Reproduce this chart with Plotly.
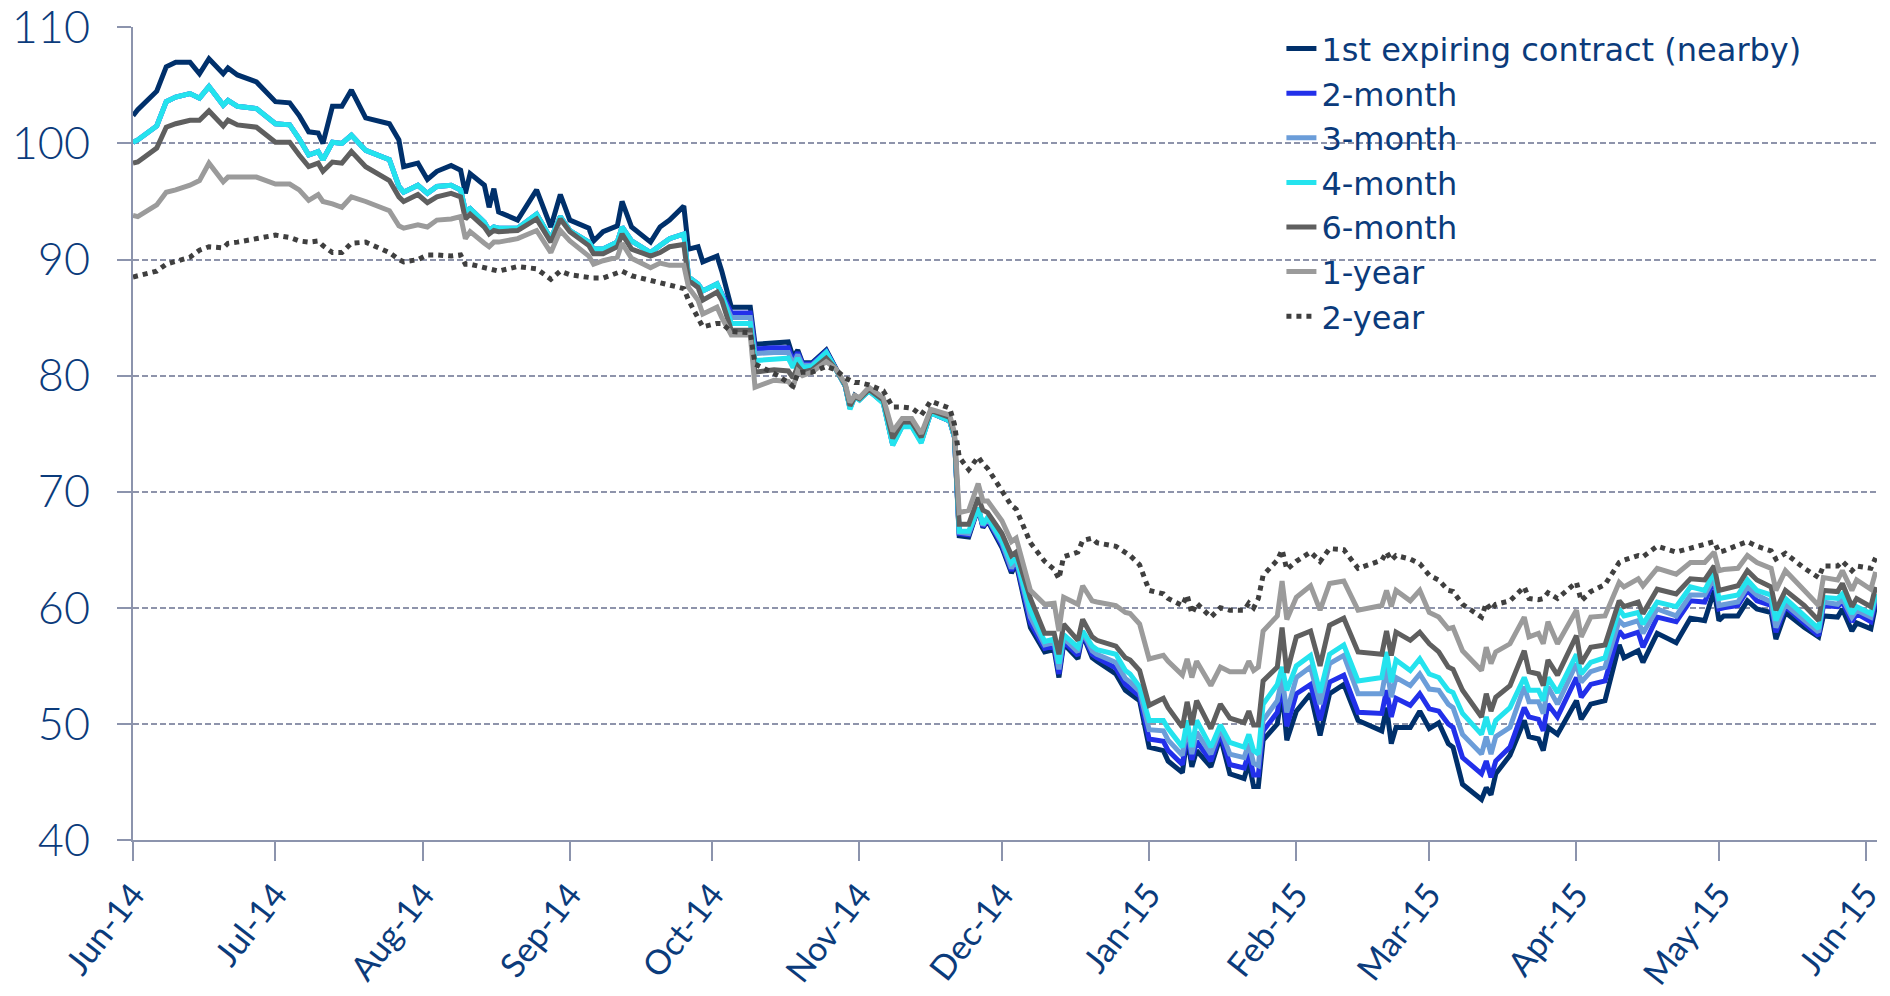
import pandas as pd
import plotly.graph_objects as go

# ---------------- data ----------------
start_date = "2014-06-01"

# calendar-day offsets from start_date of the plotted points
day_offset = [
    0, 1, 5, 7, 9, 12, 14, 16, 19, 20, 22, 26, 30, 33, 35, 37, 39, 40, 42, 44, 46, 49, 54, 56, 57,
    60, 62, 64, 67, 69, 70, 71, 74, 75, 76, 77, 81, 85, 88, 90, 92, 96, 97, 99, 102, 103, 105, 109, 111, 113, 116, 117, 119, 120, 123, 124,
    126, 130, 131, 135, 138, 139, 140, 141, 143, 146, 148, 150, 151, 152, 153, 155, 158, 160, 162, 164, 166, 168, 172, 173, 174, 176, 178, 179, 180, 183,
    185, 186, 189, 192, 194, 195, 196, 199, 200, 202, 203, 207, 209, 210, 212, 214, 217, 218, 221, 222, 223, 224, 227, 229, 231, 234, 235, 236, 237, 238, 241, 242, 243, 245,
    248, 250, 252, 255, 258, 263, 264, 265, 266, 269, 271, 273, 275, 277, 278, 280, 284, 285, 286, 287, 290, 293, 294, 296, 297, 298, 300, 304, 305,
    307, 310, 313, 314, 317, 318, 321, 325, 328, 331, 333, 334, 335, 338, 340, 342, 345, 346, 348, 352, 355, 356, 359, 360, 362, 363, 366, 367,
]

nearby = [
    102.4, 102.9, 104.5, 106.6, 107.0, 107.0, 106.0, 107.3, 106.0, 106.5, 105.9, 105.3, 103.6, 103.5, 102.4, 101.0, 100.9, 100.0, 103.2, 103.2, 104.6, 102.2, 101.7, 100.3, 98.0,
    98.3, 96.9, 97.6, 98.1, 97.7, 95.7, 97.4, 96.4, 94.5, 96.1, 94.1, 93.4, 96.0, 92.8, 95.6, 93.4, 92.7, 91.6, 92.4, 92.9, 95.0, 92.8, 91.5, 92.8, 93.4, 94.6, 90.9, 91.1, 89.8, 90.3, 89.0,
    85.9, 85.9, 82.7, 82.8, 82.9, 81.6, 82.2, 81.1, 81.1, 82.2, 80.7, 79.1, 77.3, 78.3, 78.0, 78.7, 77.8, 74.1, 75.7, 75.7, 74.4, 76.8, 76.1, 74.7, 66.2, 66.1, 68.6, 66.9, 67.5, 65.2,
    63.0, 63.8, 58.3, 56.2, 56.4, 54.0, 56.9, 55.6, 57.7, 55.7, 55.4, 54.3, 52.9, 52.6, 52.0, 48.0, 47.7, 46.8, 45.8, 48.9, 46.3, 47.7, 46.3, 48.9, 45.7, 45.3, 46.7, 44.6, 44.6, 48.6, 50.0, 52.9, 48.6, 51.1,
    52.6, 49.0, 52.6, 53.4, 50.3, 49.4, 51.4, 48.3, 49.7, 49.7, 51.1, 49.6, 50.1, 48.3, 48.0, 44.8, 43.5, 44.5, 43.9, 45.7, 47.3, 50.3, 48.9, 48.7, 47.7, 49.7, 49.1, 52.0, 50.4,
    51.7, 52.0, 56.8, 55.7, 56.3, 55.3, 57.8, 57.0, 59.1, 58.9, 61.5, 58.9, 59.3, 59.3, 60.6, 59.9, 59.6, 57.3, 59.6, 58.3, 57.5, 59.3, 59.2, 59.9, 58.0, 58.7, 58.2, 60.2,
]

month_2 = [
    100.1, 100.3, 101.5, 103.6, 104.0, 104.3, 103.9, 104.9, 103.3, 103.7, 103.2, 103.0, 101.7, 101.6, 100.4, 99.0, 99.3, 98.6, 100.1, 100.0, 100.7, 99.4, 98.6, 96.3, 95.8,
    96.4, 95.7, 96.3, 96.4, 96.0, 94.2, 94.4, 93.2, 92.5, 92.8, 92.7, 92.7, 93.9, 91.8, 93.7, 92.5, 91.5, 90.9, 90.9, 91.5, 92.8, 91.6, 90.6, 91.2, 91.8, 92.2, 88.5, 87.9, 87.3, 87.9, 87.0,
    85.4, 85.4, 82.3, 82.4, 82.4, 81.3, 82.0, 81.0, 81.0, 82.1, 80.7, 79.1, 77.2, 78.2, 78.0, 78.7, 77.7, 74.1, 75.7, 75.7, 74.3, 76.8, 76.1, 74.7, 66.4, 66.3, 68.6, 67.0, 67.6, 65.4,
    63.2, 64.0, 58.7, 56.5, 56.7, 54.3, 57.1, 55.9, 57.8, 56.0, 55.7, 54.8, 53.4, 53.1, 52.4, 48.7, 48.5, 47.7, 46.5, 49.3, 46.9, 48.5, 46.8, 49.2, 46.5, 46.2, 47.5, 45.6, 45.6, 49.4, 51.0, 53.5, 49.8, 52.6,
    53.4, 50.3, 53.6, 54.2, 51.0, 50.9, 52.9, 50.6, 52.2, 51.6, 52.6, 51.3, 51.1, 50.0, 49.7, 47.1, 45.7, 46.8, 45.4, 46.8, 48.0, 51.4, 50.6, 50.4, 49.4, 51.7, 50.6, 54.0, 52.3,
    53.4, 53.7, 58.0, 57.5, 57.9, 56.6, 59.2, 58.8, 60.6, 60.5, 62.4, 59.9, 60.0, 60.2, 61.5, 60.6, 60.2, 57.9, 60.1, 58.6, 57.6, 60.2, 60.1, 60.5, 58.8, 59.5, 58.8, 60.6,
]

month_3 = [
    100.1, 100.3, 101.5, 103.6, 104.0, 104.3, 103.9, 104.9, 103.3, 103.7, 103.2, 103.0, 101.7, 101.6, 100.4, 99.0, 99.3, 98.6, 100.1, 100.0, 100.7, 99.4, 98.6, 96.3, 95.8,
    96.4, 95.7, 96.3, 96.4, 96.0, 94.2, 94.4, 93.2, 92.5, 92.8, 92.7, 92.7, 93.9, 91.8, 93.7, 92.5, 91.5, 90.9, 90.9, 91.5, 92.8, 91.6, 90.6, 91.2, 91.8, 92.2, 88.5, 87.9, 87.3, 87.9, 87.0,
    85.0, 85.0, 81.9, 82.0, 82.0, 81.0, 81.8, 80.9, 80.9, 82.0, 80.6, 79.1, 77.2, 78.2, 77.9, 78.7, 77.7, 74.0, 75.7, 75.7, 74.3, 76.8, 76.1, 74.7, 66.5, 66.4, 68.6, 67.1, 67.7, 65.6,
    63.4, 64.2, 59.2, 56.8, 57.0, 54.7, 57.4, 56.2, 57.9, 56.3, 56.0, 55.3, 53.9, 53.6, 52.8, 49.5, 49.4, 48.6, 47.3, 49.8, 47.4, 49.3, 47.4, 49.6, 47.4, 47.1, 48.3, 46.6, 46.4, 50.3, 52.0, 54.0, 51.0, 54.0,
    54.9, 51.7, 55.2, 55.9, 52.6, 52.6, 54.9, 52.3, 54.0, 53.3, 54.3, 53.0, 52.9, 51.7, 51.4, 49.1, 47.4, 48.9, 47.4, 48.9, 49.7, 53.2, 51.9, 51.9, 50.9, 53.2, 51.7, 55.2, 53.6,
    54.5, 54.9, 58.9, 58.5, 58.9, 57.8, 59.9, 59.3, 61.1, 61.1, 62.6, 60.2, 60.3, 60.5, 61.8, 61.1, 60.5, 58.3, 60.3, 58.9, 57.9, 60.5, 60.3, 60.8, 59.2, 59.8, 59.2, 60.9,
]

month_4 = [
    100.1, 100.3, 101.5, 103.6, 104.0, 104.3, 103.9, 104.9, 103.3, 103.7, 103.2, 103.0, 101.7, 101.6, 100.4, 99.0, 99.3, 98.6, 100.1, 100.0, 100.7, 99.4, 98.6, 96.3, 95.8,
    96.4, 95.7, 96.3, 96.4, 96.0, 94.2, 94.4, 93.2, 92.5, 92.8, 92.7, 92.7, 93.9, 91.8, 93.7, 92.5, 91.5, 90.9, 90.9, 91.5, 92.8, 91.6, 90.6, 91.2, 91.8, 92.2, 88.5, 87.9, 87.3, 87.9, 87.0,
    84.5, 84.5, 81.3, 81.4, 81.5, 80.7, 81.5, 80.7, 80.8, 82.0, 80.6, 79.1, 77.1, 78.2, 77.9, 78.7, 77.6, 74.0, 75.6, 75.6, 74.2, 76.8, 76.1, 74.7, 66.6, 66.6, 68.6, 67.2, 67.8, 65.8,
    63.9, 64.3, 59.8, 57.1, 57.3, 55.2, 57.7, 56.6, 58.0, 56.7, 56.4, 56.0, 54.6, 54.3, 53.2, 50.3, 50.3, 49.6, 48.0, 50.3, 48.0, 50.3, 48.0, 49.9, 48.4, 48.0, 49.1, 47.7, 47.4, 51.7, 53.4, 54.9, 52.9, 55.0,
    55.9, 52.7, 56.0, 56.8, 53.7, 54.0, 56.2, 53.6, 55.5, 54.6, 55.6, 54.3, 54.0, 52.9, 52.7, 50.9, 49.1, 50.6, 49.1, 50.3, 51.4, 54.0, 52.9, 52.9, 52.0, 54.0, 52.7, 56.0, 54.3,
    55.3, 55.7, 59.9, 59.3, 59.6, 58.6, 60.5, 60.1, 61.8, 61.5, 63.1, 60.8, 60.9, 61.1, 62.4, 61.5, 61.1, 58.9, 60.8, 59.3, 58.2, 60.9, 60.8, 61.2, 59.5, 60.1, 59.5, 61.2,
]

month_6 = [
    98.3, 98.4, 99.6, 101.4, 101.7, 102.0, 102.0, 102.8, 101.5, 102.0, 101.6, 101.4, 100.1, 100.1, 99.0, 98.0, 98.3, 97.6, 98.4, 98.3, 99.3, 98.0, 96.8, 95.4, 95.0,
    95.6, 94.9, 95.4, 95.7, 95.4, 93.5, 93.9, 92.8, 92.2, 92.5, 92.4, 92.5, 93.5, 91.5, 93.5, 92.4, 91.2, 90.5, 90.5, 91.1, 92.2, 90.9, 90.3, 90.6, 91.1, 91.3, 88.2, 87.6, 86.5, 87.2, 86.5,
    83.9, 83.9, 80.3, 80.5, 80.4, 79.8, 80.8, 80.3, 80.5, 81.5, 80.6, 79.2, 77.4, 78.2, 78.0, 78.8, 77.9, 74.6, 76.0, 76.0, 74.7, 77.0, 76.4, 74.9, 67.2, 67.2, 69.5, 68.4, 68.2, 66.4,
    64.5, 64.8, 60.8, 57.8, 57.8, 56.0, 58.6, 57.2, 59.0, 57.5, 57.2, 56.7, 55.7, 55.5, 54.6, 51.6, 52.2, 51.4, 49.7, 51.9, 49.9, 52.0, 49.6, 51.7, 50.5, 50.1, 51.1, 49.9, 49.9, 53.7, 54.9, 58.3, 54.4, 57.5,
    58.0, 55.0, 58.5, 59.1, 56.2, 56.0, 58.0, 55.9, 57.9, 57.2, 57.9, 56.9, 56.2, 54.9, 54.7, 52.9, 50.6, 52.6, 51.1, 52.3, 53.3, 56.3, 54.5, 54.3, 53.3, 55.5, 54.2, 57.6, 55.2,
    56.6, 56.8, 60.6, 60.1, 60.5, 59.5, 61.6, 61.2, 62.5, 62.4, 63.6, 61.5, 61.6, 61.9, 63.2, 62.4, 61.8, 59.8, 61.5, 60.2, 58.9, 61.5, 61.4, 62.1, 60.1, 60.8, 60.1, 61.8,
]

year_1 = [
    93.8, 93.7, 94.7, 95.8, 96.0, 96.4, 96.8, 98.3, 96.7, 97.1, 97.1, 97.1, 96.5, 96.5, 96.0, 95.1, 95.6, 95.0, 94.8, 94.5, 95.4, 95.0, 94.2, 92.9, 92.7,
    93.0, 92.8, 93.4, 93.5, 93.7, 91.8, 92.4, 91.4, 91.1, 91.5, 91.5, 91.8, 92.5, 90.6, 92.5, 91.6, 90.3, 89.6, 89.9, 90.2, 91.4, 90.1, 89.3, 89.7, 89.5, 89.5, 87.6, 86.5, 85.3, 85.9, 85.0,
    83.5, 83.5, 79.0, 79.6, 79.5, 79.0, 80.4, 80.0, 80.3, 81.2, 80.6, 79.3, 77.7, 78.3, 78.1, 79.0, 78.1, 75.2, 76.3, 76.3, 75.0, 77.1, 76.6, 75.1, 68.2, 68.4, 70.7, 69.2, 69.2, 67.5,
    65.7, 66.0, 61.5, 60.3, 60.4, 58.0, 60.9, 60.3, 61.9, 60.6, 60.5, 60.2, 59.6, 59.5, 58.6, 55.6, 55.9, 55.4, 54.2, 55.6, 54.0, 55.4, 53.3, 54.9, 54.5, 54.5, 55.4, 54.6, 54.9, 58.0, 59.3, 62.3, 59.0, 60.9,
    61.9, 59.8, 62.1, 62.3, 59.8, 60.2, 61.5, 60.1, 61.5, 60.6, 61.5, 59.6, 59.2, 58.2, 58.3, 56.3, 54.6, 56.6, 55.2, 56.2, 56.9, 59.2, 57.5, 57.8, 56.9, 58.8, 56.9, 59.8, 57.5,
    59.2, 59.3, 62.2, 61.8, 62.5, 61.9, 63.4, 62.9, 63.9, 63.9, 64.8, 63.2, 63.3, 63.4, 64.5, 63.9, 63.4, 61.5, 63.2, 61.5, 60.2, 62.6, 62.4, 63.2, 61.5, 62.4, 61.6, 63.1,
]

year_2 = [
    88.5, 88.6, 89.0, 89.6, 89.8, 90.2, 90.8, 91.1, 91.0, 91.4, 91.5, 91.8, 92.1, 91.9, 91.6, 91.5, 91.6, 91.2, 90.6, 90.6, 91.4, 91.5, 90.6, 90.0, 89.8,
    90.0, 90.4, 90.4, 90.3, 90.4, 89.6, 89.6, 89.3, 89.1, 89.0, 89.0, 89.4, 89.2, 88.3, 89.0, 88.7, 88.4, 88.4, 88.4, 88.8, 89.0, 88.6, 88.2, 88.1, 87.8, 87.5, 86.5, 84.9, 84.2, 84.5, 84.5,
    83.8, 83.7, 81.0, 80.2, 79.4, 79.1, 80.2, 80.3, 80.3, 80.8, 80.5, 79.8, 79.6, 79.4, 79.4, 79.2, 78.7, 77.3, 77.3, 77.2, 76.6, 77.8, 77.2, 75.8, 73.0, 71.9, 73.0, 72.4, 72.0, 70.1,
    68.8, 68.5, 65.6, 64.0, 63.3, 62.5, 64.4, 64.8, 65.8, 66.0, 65.6, 65.3, 64.8, 64.5, 63.7, 61.5, 61.2, 60.8, 60.2, 61.1, 59.5, 60.4, 59.2, 60.0, 59.8, 59.8, 60.4, 60.0, 60.8, 62.8, 64.1, 65.0, 63.3, 64.0,
    64.8, 64.0, 65.1, 65.0, 63.4, 64.1, 64.8, 64.1, 64.5, 64.2, 63.8, 62.8, 62.4, 61.5, 61.4, 60.3, 59.2, 60.4, 59.8, 60.3, 60.6, 61.8, 60.8, 60.7, 60.8, 61.3, 60.8, 62.2, 60.6,
    61.4, 62.0, 63.9, 64.1, 64.5, 64.4, 65.3, 64.8, 65.1, 65.4, 65.7, 64.8, 64.9, 65.4, 65.7, 65.3, 64.9, 64.2, 64.7, 63.4, 62.6, 63.6, 63.6, 64.0, 63.2, 63.6, 63.4, 64.3,
]

series_names = ["1st expiring contract (nearby)", "2-month", "3-month", "4-month",
                "6-month", "1-year", "2-year"]
series_values = [nearby, month_2, month_3, month_4, month_6, year_1, year_2]

# ---------------- styling ----------------
series_colors = ["#00306b", "#2230ea", "#6b9dd9", "#24e3ee", "#5f5f5f", "#9b9b9b", "#3f3f3f"]
series_dash = ["solid", "solid", "solid", "solid", "solid", "solid", "5px,5px"]

TEXT = "#0b3b7b"
AXIS = "#8c94ad"

for v in series_values:
    assert len(v) == len(day_offset), (len(v), len(day_offset))

dates = pd.Timestamp(start_date) + pd.to_timedelta(day_offset, unit="D")

fig = go.Figure()
for name, vals, col, dash in zip(series_names, series_values, series_colors, series_dash):
    fig.add_trace(go.Scatter(
        x=dates, y=vals, name=name, mode="lines",
        line=dict(color=col, width=5, dash=dash),
    ))

fig.update_layout(
    width=1890, height=996,
    autosize=False,
    margin=dict(l=133, r=13, t=27, b=156, pad=0, autoexpand=False),
    paper_bgcolor="white", plot_bgcolor="white",
    font=dict(family="Lato, 'Open Sans', sans-serif", color=TEXT),
    showlegend=True,
    legend=dict(
        x=0.6585, y=1.007, xanchor="left", yanchor="top",
        bgcolor="rgba(0,0,0,0)", borderwidth=0,
        font=dict(family="'DejaVu Sans', sans-serif", size=32, color=TEXT),
        itemwidth=30, tracegroupgap=0,
    ),
    xaxis=dict(
        type="date", automargin=False,
        range=["2014-06-01", "2015-06-03 07:00"],
        tick0="2014-06-01", dtick="M1", tickformat="%b-%y",
        tickangle=-52,
        ticks="outside", ticklen=19, tickwidth=1.5, tickcolor=AXIS,
        showline=True, linecolor=AXIS, linewidth=2,
        showgrid=False, zeroline=False,
        ticklabeloverflow="allow",
        tickfont=dict(family="Lato, sans-serif", size=34, color=TEXT),
    ),
    yaxis=dict(
        range=[40, 110.03], tick0=40, dtick=10, automargin=False,
        ticks="outside", ticklen=14, tickwidth=1.5, tickcolor=AXIS,
        showline=True, linecolor=AXIS, linewidth=2,
        showgrid=True, gridcolor="#8e94ab", gridwidth=1.5, griddash="6px,3px",
        zeroline=False,
        ticklabelstandoff=18,
        ticklabeloverflow="allow",
        tickfont=dict(family="Lato, sans-serif", size=45, color=TEXT, weight=300),
    ),
)

fig.write_html("out.html", include_plotlyjs=True,
               config={"displayModeBar": False},
               post_script="document.body.style.margin='0';document.body.style.overflow='hidden';")
